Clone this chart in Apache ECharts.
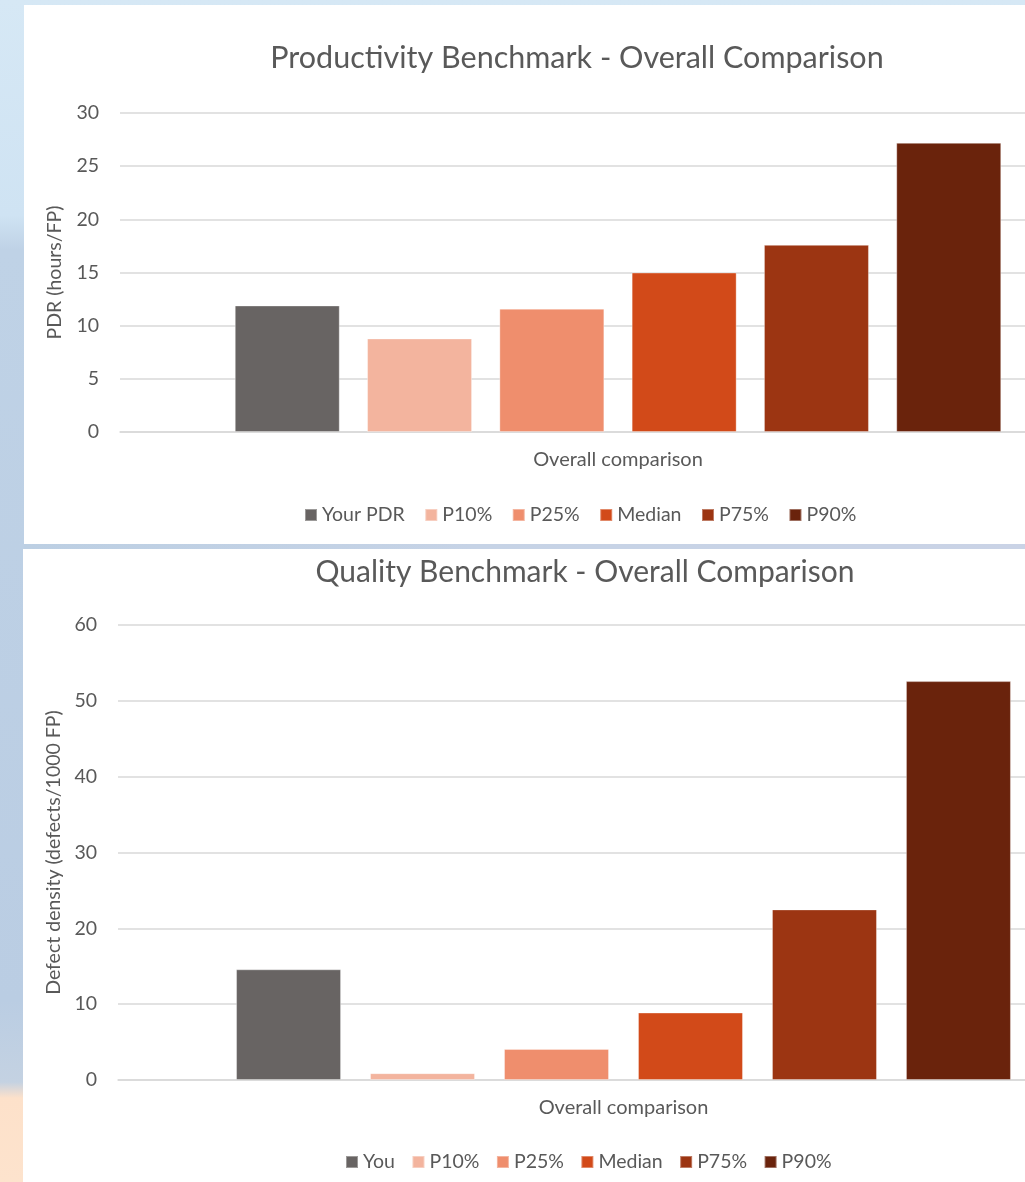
<!DOCTYPE html>
<html>
<head>
<meta charset="utf-8">
<script src="https://cdn.jsdelivr.net/npm/echarts@6/dist/echarts.min.js"></script>
<style>
  html, body { margin: 0; padding: 0; }
  body {
    width: 1025px; height: 1182px; position: relative; overflow: hidden;
    background: linear-gradient(to bottom, #d6e8f5 0px, #cfe3f3 215px, #bfd2e6 250px, #bacde3 1000px, #c4d2e2 1082px, #fde1ca 1098px, #fde3cd 1182px);
  }
  .panel { position: absolute; background: #ffffff; }
  #p1 { left: 24px; top: 5px; width: 1001px; height: 539px; }
  #strip { position: absolute; left: 24px; top: 544px; width: 1001px; height: 5px;
    background: linear-gradient(to right, #bccfe3 0, #c6d3e6 45%, #cad3e6 100%); }
  #p2 { left: 23px; top: 549px; width: 1002px; height: 633px; }
  /* the plot area runs past the right edge of the page and is cut off there */
  #chart { position: absolute; left: 0; top: 0; width: 1140px; height: 1182px; }
</style>
</head>
<body>
<div id="p1" class="panel"></div>
<div id="strip"></div>
<div id="p2" class="panel"></div>
<div id="chart"></div>
<script>
// Benchmark groups shared by both charts
const groupColors = ['#686463', '#f3b49e', '#ef8e6d', '#d24a19', '#9c3512', '#6a230c'];
const category = ['Overall comparison'];

// Productivity: PDR in hours per function point
const pdrNames = ['Your PDR', 'P10%', 'P25%', 'Median', 'P75%', 'P90%'];
const pdrValues = [11.9, 8.8, 11.6, 15.0, 17.6, 27.2];
const pdrTicks = [0, 5, 10, 15, 20, 25, 30];

// Quality: defect density in defects per 1000 function points
const qualityNames = ['You', 'P10%', 'P25%', 'Median', 'P75%', 'P90%'];
const qualityValues = [14.6, 0.9, 4.1, 8.9, 22.5, 52.6];
const qualityTicks = [0, 10, 20, 30, 40, 50, 60];

const FONT = 'Lato, "Open Sans", sans-serif';
const TXT = '#595959';
const GRIDLINE = '#d9d9d9';

function buildSeries(names, values, axisIdx, gap) {
  return names.map((name, i) => ({
    name: name,
    type: 'bar',
    xAxisIndex: axisIdx,
    yAxisIndex: axisIdx,
    barWidth: 105,
    barGap: gap,
    itemStyle: { color: groupColors[i], borderColor: 'rgba(255,255,255,0.35)', borderWidth: 1 },
    data: [values[i]]
  }));
}

function valueAxis(ticks, name, gridIdx, gap) {
  return {
    type: 'value',
    gridIndex: gridIdx,
    min: ticks[0],
    max: ticks[ticks.length - 1],
    interval: ticks[1] - ticks[0],
    name: name,
    nameLocation: 'middle',
    nameGap: gap,
    nameTextStyle: { fontFamily: FONT, fontSize: 19.5, color: TXT },
    axisLine: { show: false },
    axisTick: { show: false },
    axisLabel: { fontFamily: FONT, fontSize: 19.5, color: TXT, margin: 21 },
    splitLine: { lineStyle: { color: GRIDLINE, width: 1.5 } }
  };
}

function categoryAxis(gridIdx) {
  return {
    type: 'category',
    gridIndex: gridIdx,
    data: category,
    axisLine: { lineStyle: { color: GRIDLINE, width: 1.5 } },
    axisTick: { show: false },
    axisLabel: { fontFamily: FONT, fontSize: 20, color: TXT, margin: 18 }
  };
}

const legendStyle = { fontFamily: FONT, fontSize: 19.5, color: TXT };

const chart = echarts.init(document.getElementById('chart'), null, { renderer: 'canvas' });
chart.setOption({
  animation: false,
  backgroundColor: 'transparent',
  title: [
    { text: 'Productivity Benchmark - Overall Comparison', left: 572, top: 38, textAlign: 'center',
      textStyle: { fontFamily: FONT, fontSize: 30.5, fontWeight: 'normal', color: TXT } },
    { text: 'Quality Benchmark - Overall Comparison', left: 580, top: 552, textAlign: 'center',
      textStyle: { fontFamily: FONT, fontSize: 30, fontWeight: 'normal', color: TXT } }
  ],
  legend: [
    { data: pdrNames, left: 299, top: 500, itemWidth: 12, itemHeight: 12, itemGap: 19.5,
      icon: 'rect', textStyle: legendStyle },
    { data: qualityNames, left: 340, top: 1147, itemWidth: 12, itemHeight: 12, itemGap: 16.5,
      icon: 'rect', textStyle: legendStyle }
  ],
  grid: [
    { left: 120, width: 996, top: 113, height: 319, outerBoundsMode: 'none', containLabel: false },
    { left: 118, width: 1011, top: 625, height: 455, outerBoundsMode: 'none', containLabel: false }
  ],
  xAxis: [categoryAxis(0), categoryAxis(1)],
  yAxis: [
    valueAxis(pdrTicks, 'PDR (hours/FP)', 0, 55),
    valueAxis(qualityTicks, 'Defect density (defects/1000 FP)', 1, 53)
  ],
  series: [].concat(
    buildSeries(pdrNames, pdrValues, 0, '26%'),
    buildSeries(qualityNames, qualityValues, 1, '27.6%')
  )
});
</script>
</body>
</html>
